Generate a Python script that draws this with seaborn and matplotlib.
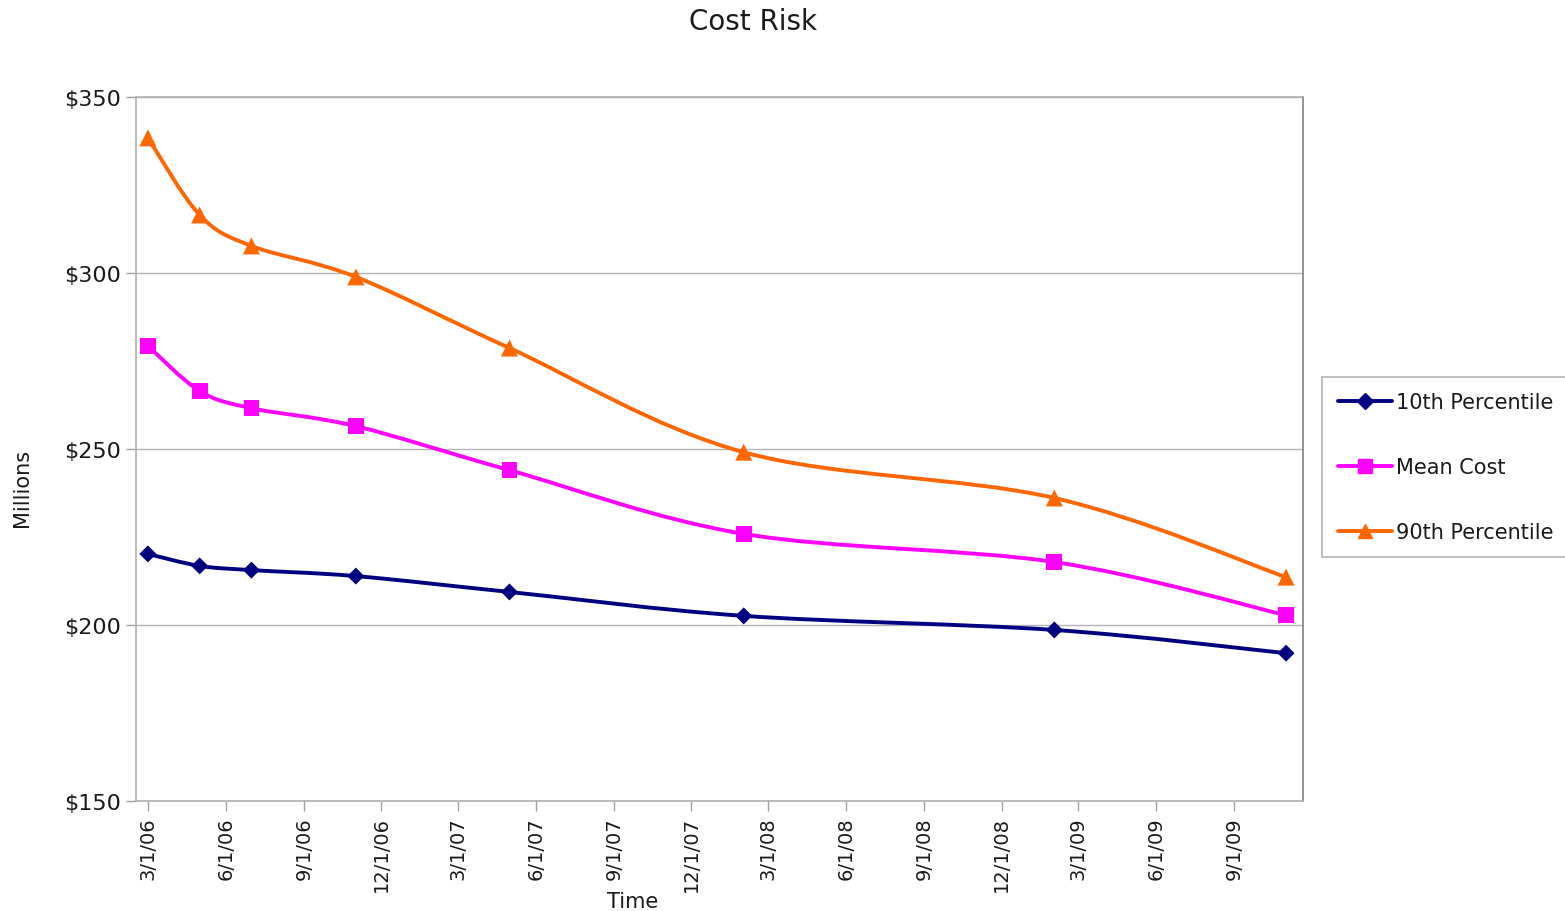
import numpy as np
import pandas as pd
import matplotlib
matplotlib.use("Agg")
import matplotlib.pyplot as plt
import matplotlib.dates as mdates
from matplotlib.path import Path
from matplotlib.patches import PathPatch
from matplotlib.lines import Line2D
import seaborn as sns

# Data
dates = ["2006-03-01", "2006-05-01", "2006-07-01", "2006-11-01",
         "2007-05-01", "2008-02-01", "2009-02-01", "2009-11-01"]
p10 = [220.2, 216.8, 215.6, 213.9, 209.4, 202.6, 198.6, 192.0]
mean_cost = [279.3, 266.5, 261.6, 256.5, 244.0, 225.9, 217.9, 202.8]
p90 = [338.4, 316.5, 307.7, 298.9, 278.7, 249.1, 236.1, 213.6]

series_names = ["10th Percentile", "Mean Cost", "90th Percentile"]
tick_dates = ["2006-03-01", "2006-06-01", "2006-09-01", "2006-12-01",
              "2007-03-01", "2007-06-01", "2007-09-01", "2007-12-01",
              "2008-03-01", "2008-06-01", "2008-09-01", "2008-12-01",
              "2009-03-01", "2009-06-01", "2009-09-01"]
tick_labels = ["3/1/06", "6/1/06", "9/1/06", "12/1/06", "3/1/07", "6/1/07",
               "9/1/07", "12/1/07", "3/1/08", "6/1/08", "9/1/08", "12/1/08",
               "3/1/09", "6/1/09", "9/1/09"]
y_ticks = [150, 200, 250, 300, 350]

colors = {"10th Percentile": "#000080", "Mean Cost": "#FF00FF",
          "90th Percentile": "#FF6600"}
markers = {"10th Percentile": "D", "Mean Cost": "s", "90th Percentile": "^"}
sizes = {"10th Percentile": 75, "Mean Cost": 130, "90th Percentile": 150}

df = pd.DataFrame({"Date": pd.to_datetime(dates),
                   "10th Percentile": p10, "Mean Cost": mean_cost,
                   "90th Percentile": p90})
long_df = df.melt(id_vars="Date", var_name="Series", value_name="Cost")

sns.set_style("white")
plt.rcParams["font.family"] = ["DejaVu Sans"]


def smooth_path(x, y):
    # Excel-like smoothed line: cubic Bezier segments through the points
    pts = np.column_stack([x, y])
    verts = [pts[0]]
    codes = [Path.MOVETO]
    n = len(pts)
    for i in range(n - 1):
        p0 = pts[i - 1] if i > 0 else pts[i]
        p1 = pts[i]
        p2 = pts[i + 1]
        p3 = pts[i + 2] if i + 2 < n else pts[i + 1]
        c1 = p1 + (p2 - p0) / 6.0
        c2 = p2 - (p3 - p1) / 6.0
        verts += [c1, c2, p2]
        codes += [Path.CURVE4] * 3
    return Path(verts, codes)


fig = plt.figure(figsize=(15.65, 9.12), dpi=100)
ax = fig.add_axes([0.0869, 0.1206, 0.7457, 0.7719])

xnum = mdates.date2num(pd.to_datetime(dates))
for name in series_names:
    path = smooth_path(xnum, df[name].values)
    ax.add_patch(PathPatch(path, facecolor="none", edgecolor=colors[name],
                           lw=2.8, zorder=2))
    sub = long_df[long_df["Series"] == name]
    sns.scatterplot(data=sub, x="Date", y="Cost", ax=ax, color=colors[name],
                    marker=markers[name], s=sizes[name], edgecolor="none",
                    zorder=3, legend=False)

ax.set_xlim(pd.Timestamp("2006-02-15"), pd.Timestamp("2009-11-21"))
ax.set_ylim(150, 350)
ax.set_yticks(y_ticks)
ax.set_yticklabels([f"${v}" for v in y_ticks], fontsize=16)
ax.set_xticks(pd.to_datetime(tick_dates))
ax.set_xticklabels(tick_labels, rotation=90, fontsize=14)
ax.tick_params(axis="both", direction="out", length=7, width=1,
               color="#a0a0a0", pad=4, labelcolor="#1a1a1a",
               bottom=True, left=True)

ax.grid(axis="y", color="#b4b4b4", lw=1)
ax.grid(axis="x", visible=False)
for side in ["left", "top", "bottom"]:
    ax.spines[side].set_color("#b0b0b0")
    ax.spines[side].set_linewidth(1.2)
ax.spines["right"].set_color("#808080")
ax.spines["right"].set_linewidth(1.2)

ax.set_xlabel("")
ax.set_ylabel("")
fig.text(633 / 1565, 1 - 902 / 912, "Time", fontsize=15, ha="center",
         va="center", color="#1a1a1a")
fig.text(22 / 1565, 1 - 488 / 912, "Millions", fontsize=15, ha="center",
         va="center", rotation=90, color="#1a1a1a")
fig.text(753 / 1565, 1 - 22 / 912, "Cost Risk", fontsize=20, ha="center",
         va="center", color="#1a1a1a")

handles = [Line2D([0], [0], color=colors[n], lw=2.8, marker=markers[n],
                  markersize=10 if n != "10th Percentile" else 8,
                  markeredgecolor=colors[n]) for n in series_names]
leg = fig.legend(handles, series_names, loc="center left",
                 bbox_to_anchor=(1322 / 1565, 1 - 468 / 912), fontsize=15,
                 frameon=True, fancybox=False, handlelength=2.6,
                 handletextpad=0.2, labelspacing=2.15, borderpad=0.75,
                 borderaxespad=0, labelcolor="#1a1a1a")
leg.get_frame().set_edgecolor("#a0a0a0")
leg.get_frame().set_linewidth(1.2)

fig.savefig("out.png", dpi=100)
plt.close(fig)
